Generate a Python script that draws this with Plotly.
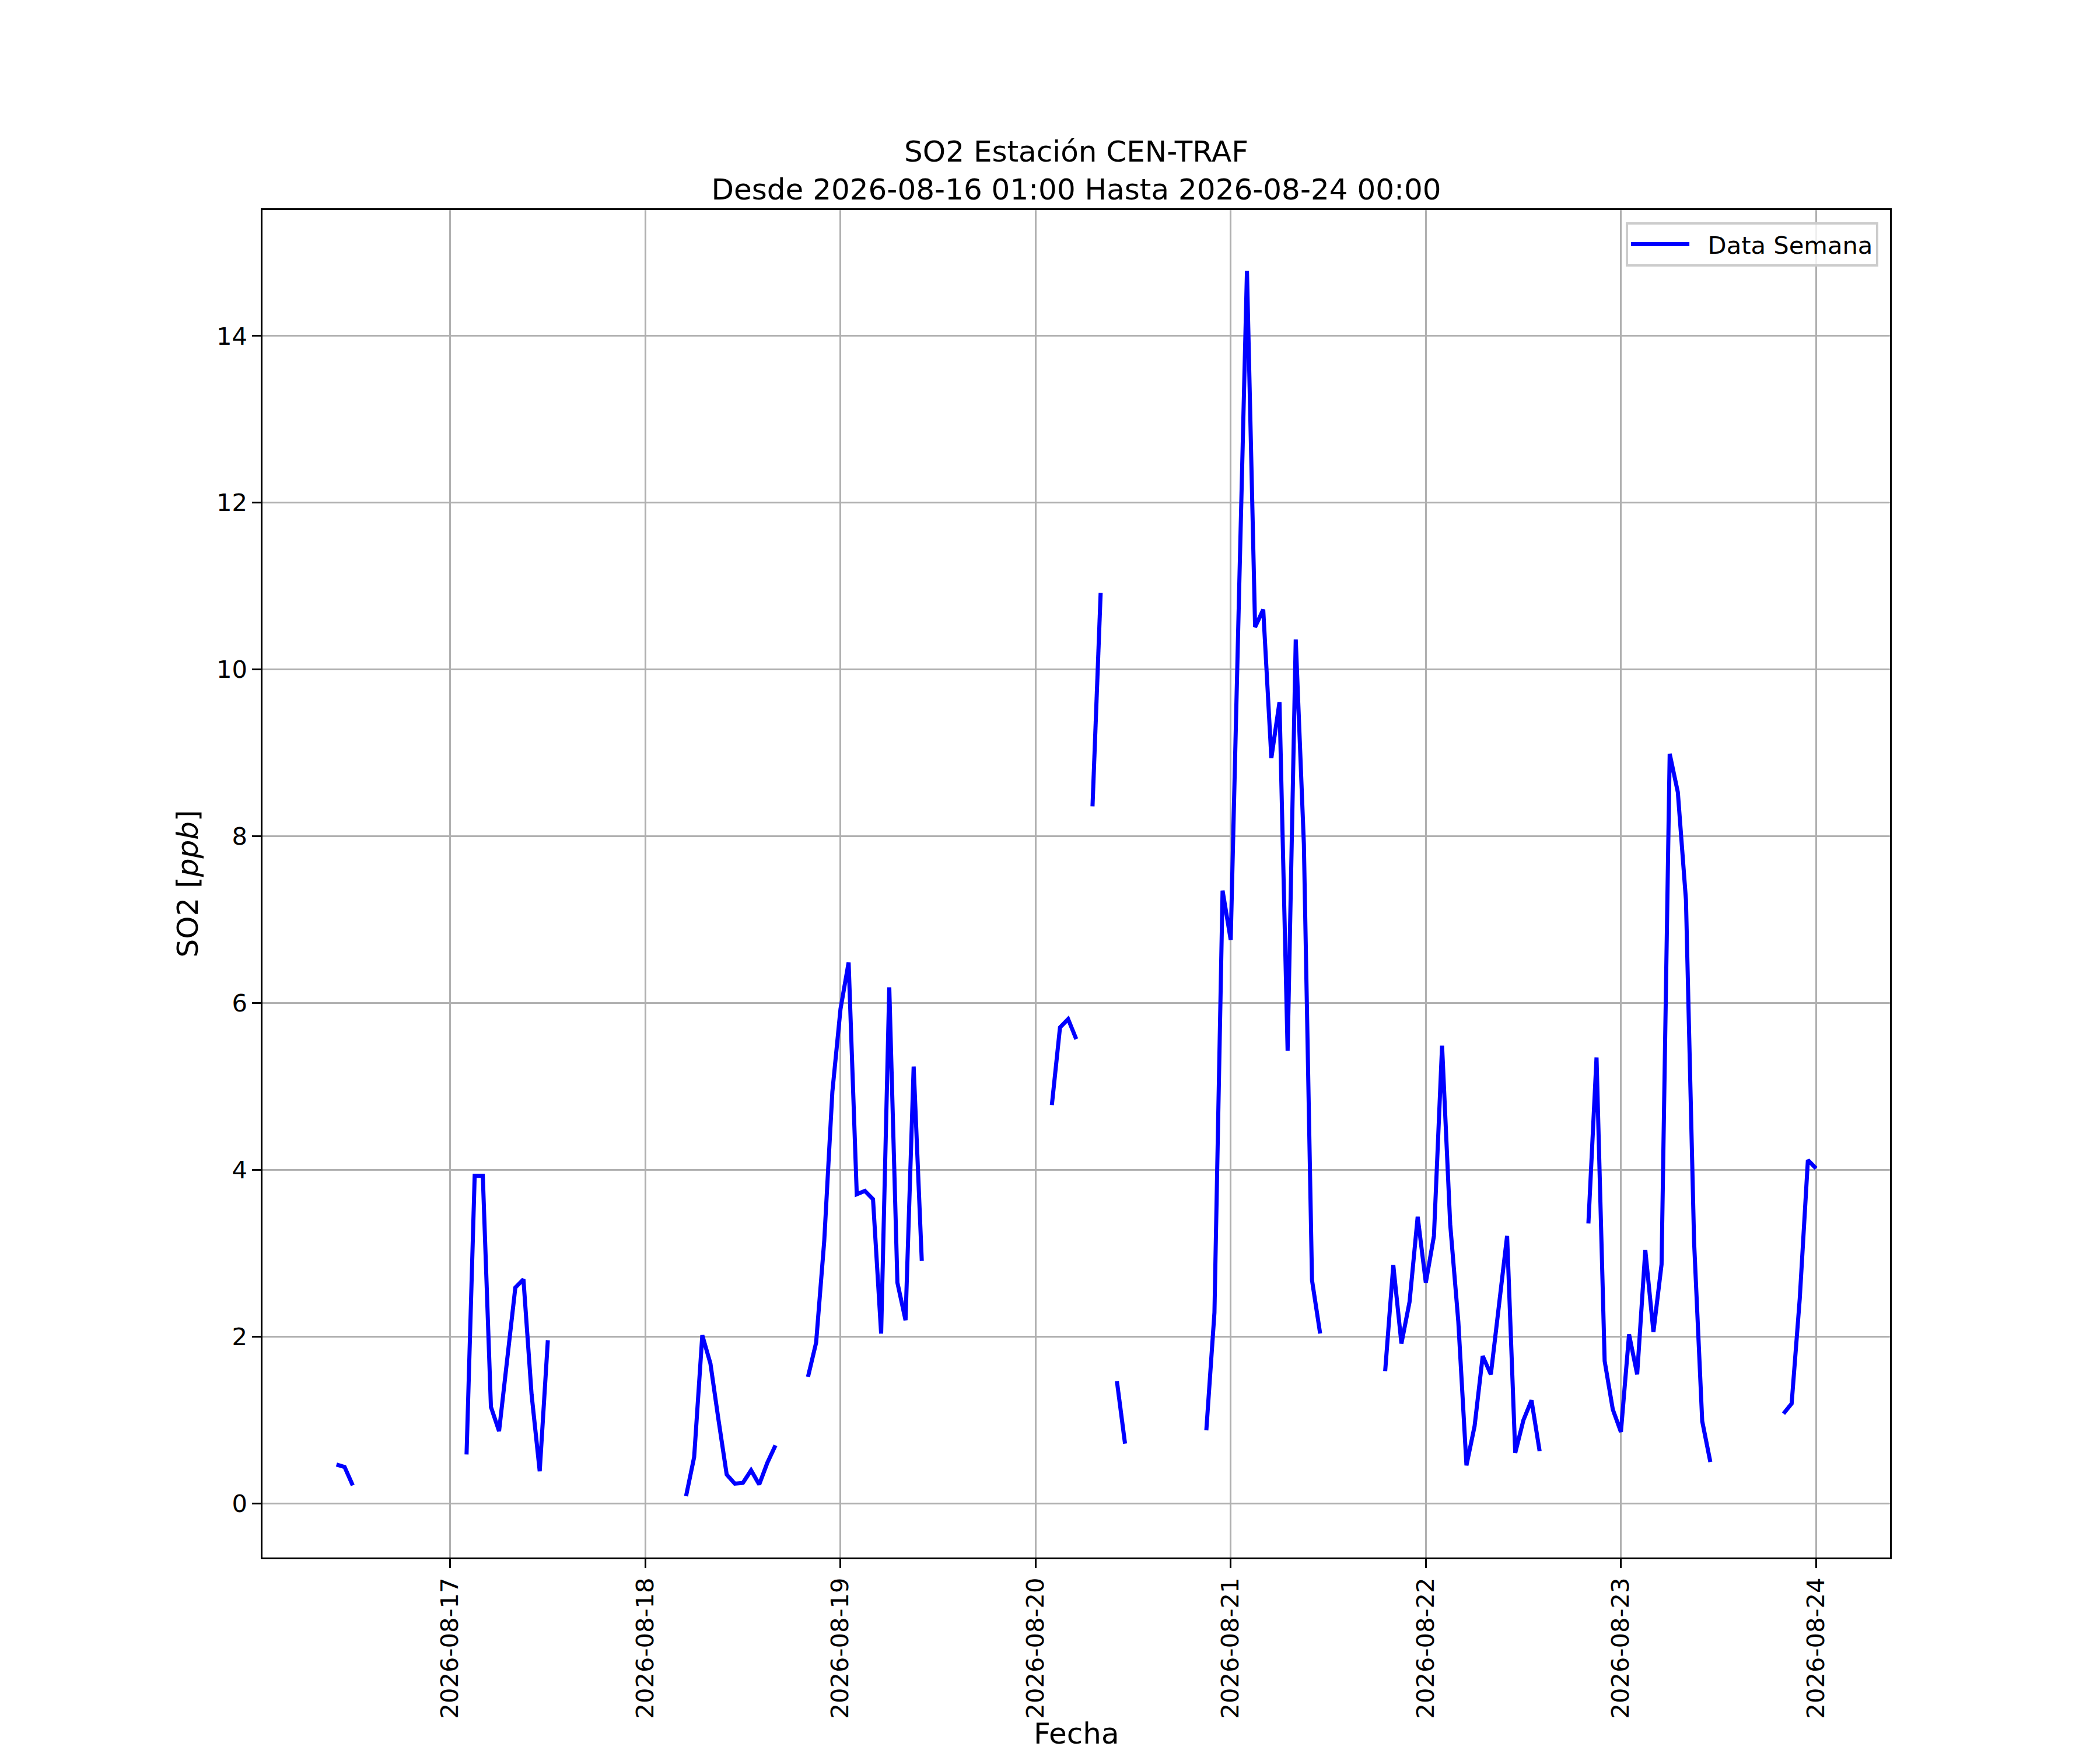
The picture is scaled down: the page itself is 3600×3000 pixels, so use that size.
import pandas as pd
import plotly.graph_objects as go

N = None
# Hourly SO2 values [ppb], 2026-08-16 01:00 ... 2026-08-24 00:00 (None = missing)
dia16 = [N, N, N, N, N, N, N, N, N, 0.47, 0.44, 0.22, N, N, N, N, N, N, N, N, N, N, N]          # 01..23
dia17 = [N, N, 0.59, 3.93, 3.93, 1.16, 0.87, 1.72, 2.59, 2.69, 1.31, 0.39, 1.96,
         N, N, N, N, N, N, N, N, N, N, N]
dia18 = [N, N, N, N, N, 0.09, 0.56, 2.02, 1.68, 1.00, 0.35, 0.24, 0.25, 0.40, 0.23, 0.49, 0.70,
         N, N, N, 1.52, 1.93, 3.15, 4.94]
dia19 = [5.93, 6.49, 3.71, 3.75, 3.65, 2.04, 6.19, 2.65, 2.20, 5.24, 2.91,
         N, N, N, N, N, N, N, N, N, N, N, N, N]
dia20 = [N, N, 4.78, 5.71, 5.81, 5.57, N, 8.36, 10.92, N, 1.47, 0.72,
         N, N, N, N, N, N, N, N, N, 0.88, 2.29, 7.35]
dia21 = [6.76, 10.80, 14.78, 10.51, 10.72, 8.94, 9.61, 5.43, 10.36, 7.91, 2.68, 2.04,
         N, N, N, N, N, N, N, 1.59, 2.86, 1.92, 2.42, 3.44]
dia22 = [2.65, 3.21, 5.49, 3.35, 2.18, 0.46, 0.93, 1.77, 1.55, 2.38, 3.21, 0.61, 1.00, 1.24, 0.63,
         N, N, N, N, N, 3.36, 5.35, 1.71, 1.13]
dia23 = [0.86, 2.03, 1.55, 3.04, 2.06, 2.87, 8.99, 8.53, 7.24, 3.14, 0.99, 0.50,
         N, N, N, N, N, N, N, N, 1.08, 1.20, 2.46, 4.12]
dia24 = [4.02]

so2 = dia16 + dia17 + dia18 + dia19 + dia20 + dia21 + dia22 + dia23 + dia24
fechas = pd.date_range("2026-08-16 01:00", "2026-08-24 00:00", freq="h")

tick_fechas = ["2026-08-17", "2026-08-18", "2026-08-19", "2026-08-20",
               "2026-08-21", "2026-08-22", "2026-08-23", "2026-08-24"]
y_ticks = [0, 2, 4, 6, 8, 10, 12, 14]

FONT = "DejaVu Sans"
PT = 300 / 72.0  # px per point at 300 dpi

fig = go.Figure()
fig.add_trace(go.Scatter(
    x=fechas, y=so2, mode="lines", name="\u00a0\u00a0Data Semana",
    line=dict(color="#0000ff", width=7),
    connectgaps=False,
))

axis_common = dict(
    showgrid=True, gridcolor="#b0b0b0", gridwidth=0.8 * PT,
    showline=True, linecolor="black", linewidth=0.8 * PT, mirror=True,
    ticks="outside", ticklen=3.5 * PT, tickwidth=0.8 * PT, tickcolor="black",
    tickfont=dict(family=FONT, size=10 * PT, color="black"),
    zeroline=False, automargin=False,
)

fig.update_layout(
    width=3600, height=3000,
    margin=dict(l=442, r=368, t=352, b=338),
    paper_bgcolor="white", plot_bgcolor="white",
    font=dict(family=FONT, color="black"),
    title=dict(
        text="SO2 Estación CEN-TRAF<br>Desde 2026-08-16 01:00 Hasta 2026-08-24 00:00",
        x=0.5, xref="paper", xanchor="center",
        y=1, yref="paper", yanchor="bottom",
        pad=dict(b=83),
        font=dict(family=FONT, size=12 * PT, color="black"),
    ),
    xaxis=dict(
        type="date",
        range=["2026-08-16 00:54", "2026-08-24 09:06"],
        tickvals=tick_fechas, ticktext=tick_fechas,
        tickangle=-90,
        **axis_common,
    ),
    yaxis=dict(
        range=[-0.645, 15.51],
        tickvals=y_ticks,
        title=dict(text="SO2 [<i>ppb</i>]", font=dict(family=FONT, size=12 * PT, color="black"), standoff=16),
        **axis_common,
    ),
    annotations=[dict(
        text="Fecha", showarrow=False,
        xref="paper", yref="paper", x=0.5, y=0,
        xanchor="center", yanchor="bottom", yshift=-333,
        font=dict(family=FONT, size=12 * PT, color="black"),
    )],
    showlegend=True,
    legend=dict(
        x=0.9928, y=0.991, xanchor="right", yanchor="top",
        bgcolor="rgba(255,255,255,0.8)", bordercolor="#cccccc", borderwidth=1.0 * PT,
        font=dict(family=FONT, size=10 * PT, color="black"),
        itemwidth=100,
    ),
)

fig.write_html("out.html")
